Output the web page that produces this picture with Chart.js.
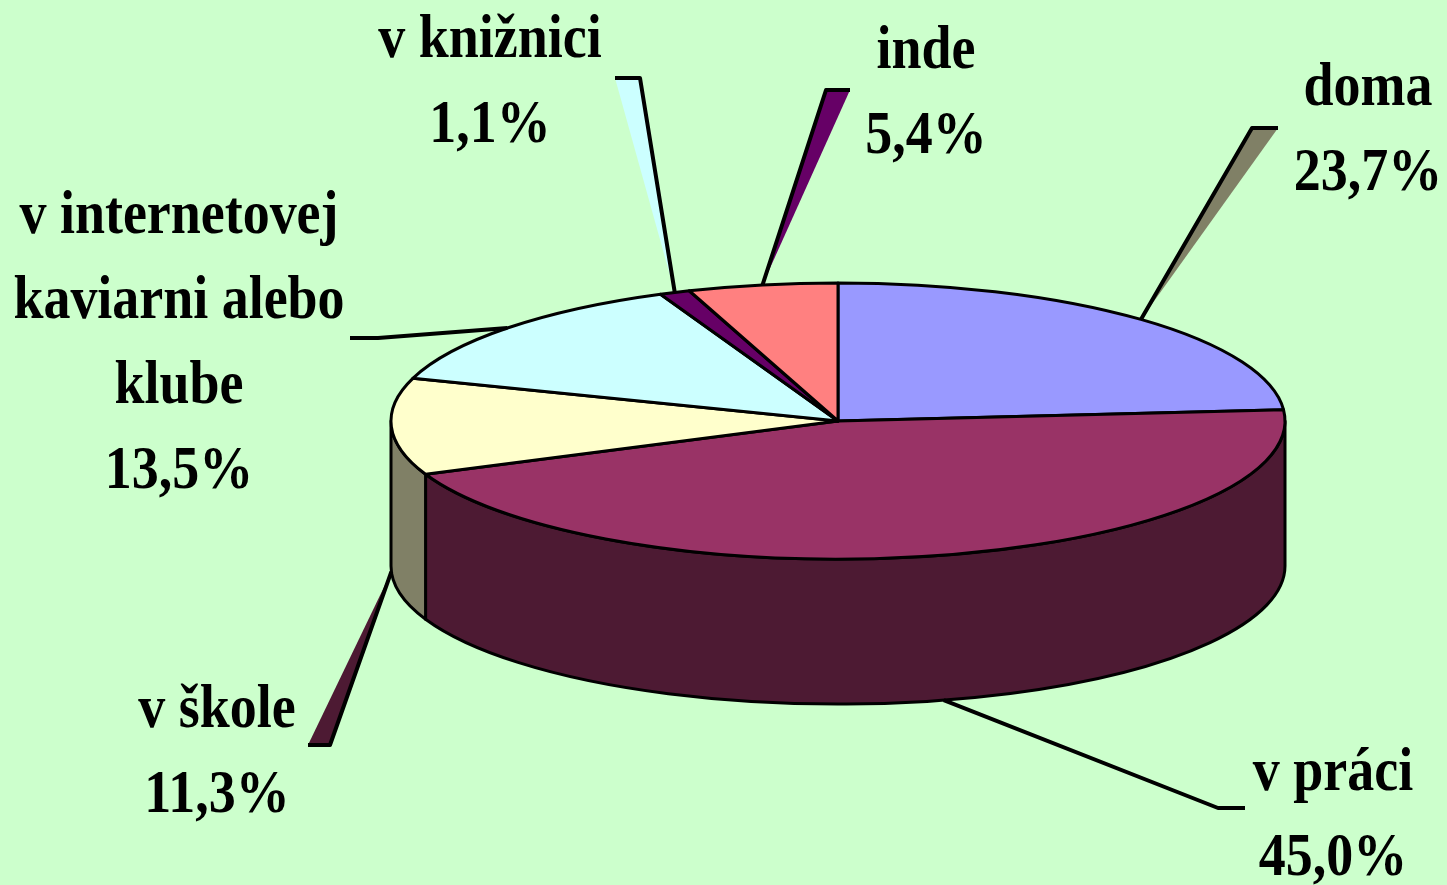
<!DOCTYPE html>
<html>
<head>
<meta charset="utf-8">
<title>Miesto pripojenia</title>
<script src="https://cdn.jsdelivr.net/npm/chart.js@4.4.1/dist/chart.umd.min.js"></script>
<style>
  html, body { margin: 0; padding: 0; background: #CCFFCC; overflow: hidden; }
  canvas { display: block; }
</style>
</head>
<body>
<canvas id="chart" width="1447" height="885"></canvas>
<script>
// kategórie (riadky popisu) a podiely v %
const categories = [['doma'], ['v práci'], ['v škole'], ['v internetovej', 'kaviarni alebo', 'klube'], ['v knižnici'], ['inde']];
const shares = [23.7, 45.0, 11.3, 13.5, 1.1, 5.4];
const topColors = ['#9999FF', '#993366', '#FFFFCC', '#CCFFFF', '#660066', '#FF8080'];

// rozloženie popisov: stred x, prvá účiaria
const labelPos = [[1368, 105], [1333, 790], [217, 727], [179, 233], [490, 57], [926, 68]];
// odkazové čiary: zlom a koniec vodorovnej časti, farba klinu (artefakt 3D z Excelu)
const leaders = [
  { elbow: [1252, 128], end: [1278, 128], wedge: '#808066' },
  { elbow: [1218, 808], end: [1245, 808], wedge: null },
  { elbow: [330, 745], end: [308, 745], wedge: '#4D1A33' },
  { elbow: [378, 338], end: [350, 338], wedge: null },
  { elbow: [640, 78], end: [615, 78], wedge: '#CCFFFF' },
  { elbow: [826, 90], end: [850, 90], wedge: '#660066' }
];

const tilt = 0.309;   // pomer zvislej a vodorovnej polosi
const depth = 145;    // výška valca
const font = 'bold 62px "Liberation Serif", "Times New Roman", serif';
const lineH = 85;

function darken(hex) {
  const n = parseInt(hex.slice(1), 16);
  const r = Math.round(((n >> 16) & 255) / 2);
  const g = Math.round(((n >> 8) & 255) / 2);
  const b = Math.round((n & 255) / 2);
  return 'rgb(' + r + ',' + g + ',' + b + ')';
}

const pie3d = {
  id: 'pie3d',
  beforeDatasetsDraw(chart) {
    const ctx = chart.ctx;
    const arcs = chart.getDatasetMeta(0).data;
    const cx = arcs[0].x, cy = arcs[0].y;
    const rx = arcs[0].outerRadius, ry = rx * tilt;
    ctx.save();
    ctx.lineWidth = 3;
    ctx.lineJoin = 'round';
    ctx.strokeStyle = '#000';

    // bočné steny (len predná polovica 0..PI)
    arcs.forEach((arc, i) => {
      const a = Math.max(arc.startAngle, 0);
      const b = Math.min(arc.endAngle, Math.PI);
      if (a >= b) return;
      ctx.beginPath();
      ctx.moveTo(cx + rx * Math.cos(a), cy + ry * Math.sin(a));
      ctx.ellipse(cx, cy, rx, ry, 0, a, b);
      ctx.lineTo(cx + rx * Math.cos(b), cy + depth + ry * Math.sin(b));
      ctx.ellipse(cx, cy + depth, rx, ry, 0, b, a, true);
      ctx.closePath();
      ctx.fillStyle = darken(topColors[i]);
      ctx.fill();
      ctx.stroke();
    });

    // vrchné plochy
    arcs.forEach((arc, i) => {
      ctx.beginPath();
      ctx.moveTo(cx, cy);
      ctx.ellipse(cx, cy, rx, ry, 0, arc.startAngle, arc.endAngle);
      ctx.closePath();
      ctx.fillStyle = topColors[i];
      ctx.fill();
      ctx.stroke();
    });

    // odkazové čiary
    arcs.forEach((arc, i) => {
      const t = (arc.startAngle + arc.endAngle) / 2;
      const sx = cx + rx * Math.cos(t);
      const sy = cy + ry * Math.sin(t) + (Math.sin(t) > 0 ? depth : 0);
      const L = leaders[i];
      if (L.wedge) {
        ctx.beginPath();
        ctx.moveTo(sx, sy);
        ctx.lineTo(L.elbow[0], L.elbow[1]);
        ctx.lineTo(L.end[0], L.end[1]);
        ctx.closePath();
        ctx.fillStyle = L.wedge;
        ctx.fill();
      }
      ctx.beginPath();
      ctx.moveTo(sx, sy);
      ctx.lineTo(L.elbow[0], L.elbow[1]);
      ctx.lineTo(L.end[0], L.end[1]);
      ctx.lineWidth = 4;
      ctx.stroke();
      ctx.lineWidth = 3;
    });
    ctx.restore();
    return false;
  },
  afterDraw(chart) {
    const ctx = chart.ctx;
    ctx.save();
    ctx.font = font;
    ctx.fillStyle = '#000';
    ctx.textAlign = 'center';
    ctx.textBaseline = 'alphabetic';
    categories.forEach((lines, i) => {
      const rows = lines.concat([shares[i].toFixed(1).replace('.', ',') + '%']);
      rows.forEach((txt, j) => {
        ctx.save();
        ctx.translate(labelPos[i][0], labelPos[i][1] + j * lineH);
        ctx.scale(0.87, 1);
        ctx.fillText(txt, 0, 0);
        ctx.restore();
      });
    });
    ctx.restore();
  }
};

new Chart(document.getElementById('chart'), {
  type: 'pie',
  data: {
    labels: categories.map(c => c.join(' ')),
    datasets: [{ data: shares, backgroundColor: topColors, borderWidth: 0 }]
  },
  options: {
    responsive: false,
    animation: false,
    events: [],
    radius: 447,
    layout: { padding: { left: 229, right: 0, top: 0, bottom: 43 } },
    plugins: { legend: { display: false }, tooltip: { enabled: false } }
  },
  plugins: [pie3d]
});
</script>
</body>
</html>
